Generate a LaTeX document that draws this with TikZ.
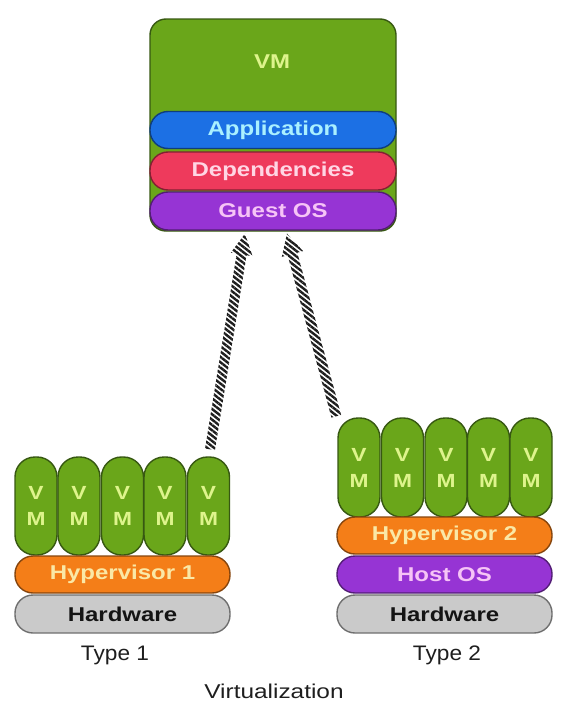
\documentclass[tikz,border=0pt]{standalone}
\usepackage{fontspec}
\setmainfont{Liberation Sans}
\newfontfamily\lblfont[FakeStretch=1.2]{Liberation Sans Bold}
\newfontfamily\typefont[FakeStretch=1.08]{Liberation Sans}
\newfontfamily\widefont[FakeStretch=1.22]{Liberation Sans}
\usetikzlibrary{calc,patterns.meta}
\definecolor{vmgreen}{RGB}{106,166,26}
\definecolor{vmdark}{RGB}{55,88,18}
\definecolor{vmtext}{RGB}{222,244,140}
\definecolor{appblue}{RGB}{28,112,228}
\definecolor{apptext}{RGB}{170,240,255}
\definecolor{depred}{RGB}{238,58,92}
\definecolor{deptext}{RGB}{255,214,228}
\definecolor{ospurple}{RGB}{150,52,212}
\definecolor{ostext}{RGB}{246,196,246}
\definecolor{hvorange}{RGB}{244,126,24}
\definecolor{hvtext}{RGB}{250,232,166}
\definecolor{hwgray}{RGB}{202,202,202}
\definecolor{hwtext}{RGB}{20,20,20}
\definecolor{hatchc}{RGB}{30,30,30}
\definecolor{captext}{RGB}{30,30,30}
\tikzset{
  lbl/.style={font=\lblfont\fontsize{20}{23}\selectfont},
  band/.style 2 args={draw=#1!55!black, line width=1.4pt, fill=#1, text=#2, lbl,
    rounded corners=18pt, inner sep=0pt, minimum height=38pt},
  vmband/.style={minimum width=246pt},
  stackband/.style={minimum width=215pt},
  pill/.style={draw=vmdark, fill=vmgreen, line width=1.4pt, text=vmtext,
    minimum width=42pt, minimum height=98pt, rounded corners=20pt, inner sep=0pt,
    align=center, font=\lblfont\fontsize{19}{26}\selectfont},
  hatch/.style={pattern={Lines[angle=-38,distance=4.2pt,line width=2.4pt]}, pattern color=hatchc},
  caption/.style={text=captext, inner sep=0pt}
}
\newcommand\hatcharrow[2]{%
  \coordinate (#1n) at ($(#2)!21pt!(#1)$);
  \fill[hatch] ($(#1)!5pt!90:(#2)$) -- ($(#1n)!5pt!90:(#2)$) -- ($(#1n)!11pt!90:(#2)$)
    -- (#2) -- ($(#1n)!11pt!-90:(#2)$) -- ($(#1n)!5pt!-90:(#2)$) -- ($(#1)!5pt!-90:(#2)$) -- cycle;
}
\begin{document}
\begin{tikzpicture}[x=1pt,y=-1pt]
\useasboundingbox (0,0) rectangle (566,707);
% VM box
\node[draw=vmdark, fill=vmgreen, line width=1.4pt, rounded corners=16pt,
      minimum width=246pt, minimum height=212pt, inner sep=0pt] (vm) at (273,125) {};
\node[lbl, text=vmtext, inner sep=0pt] (vmlabel) at (272,62) {VM};
\node[band={appblue}{apptext}, vmband, minimum height=37pt] (app) at (273,130) {Application};
\node[band={depred}{deptext}, vmband] (dep) at (273,171) {Dependencies};
\node[band={ospurple}{ostext}, vmband] (guest) at (273,211) {Guest OS};
% Type 1 stack
\node[pill] (L1) at (36,506) {V\\M};
\node[pill] (L2) at (79,506) {V\\M};
\node[pill] (L3) at (122.5,506) {V\\M};
\node[pill] (L4) at (165,506) {V\\M};
\node[pill] (L5) at (208.5,506) {V\\M};
\node[band={hvorange}{hvtext}, stackband, minimum height=37pt] (hv1) at (122.5,574.5) {Hypervisor 1};
\node[band={hwgray}{hwtext}, stackband] (hw1) at (122.5,614) {Hardware};
\node[caption, font=\typefont\fontsize{21}{24}\selectfont] (t1) at (115,655) {Type 1};
% Type 2 stack
\node[pill, minimum height=99pt] (R1) at (359,467.5) {V\\M};
\node[pill, minimum height=99pt] (R2) at (402.5,467.5) {V\\M};
\node[pill, minimum height=99pt] (R3) at (446,467.5) {V\\M};
\node[pill, minimum height=99pt] (R4) at (488.5,467.5) {V\\M};
\node[pill, minimum height=99pt] (R5) at (531,467.5) {V\\M};
\node[band={hvorange}{hvtext}, stackband, minimum height=37pt] (hv2) at (444.5,535.5) {Hypervisor 2};
\node[band={ospurple}{ostext}, stackband, minimum height=37pt] (host) at (444.5,574.5) {Host OS};
\node[band={hwgray}{hwtext}, stackband] (hw2) at (444.5,614) {Hardware};
\node[caption, font=\typefont\fontsize{21}{24}\selectfont] (t2) at (447,655) {Type 2};
\node[caption, font=\widefont\fontsize{20}{24}\selectfont] (virt) at (274,691) {Virtualization};
% hatched arrows
\coordinate (a1s) at ($(L5.north)+(1.5,-7)$);
\coordinate (a1e) at ($(guest.south)+(-28,3)$);
\coordinate (a2s) at ($(R1.north west)+(-1,-1)$);
\coordinate (a2e) at ($(guest.south)+(14,3)$);
\hatcharrow{a1s}{a1e}
\hatcharrow{a2s}{a2e}
\end{tikzpicture}
\end{document}
